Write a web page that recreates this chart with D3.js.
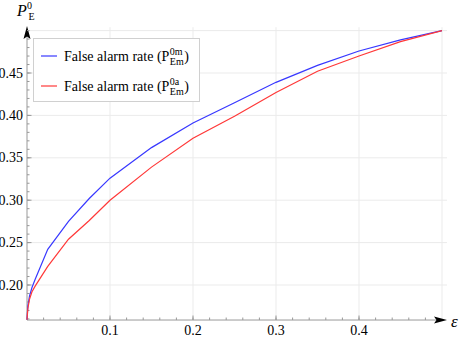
<!DOCTYPE html>
<html>
<head>
<meta charset="utf-8">
<script src="https://cdn.jsdelivr.net/npm/d3@7"></script>
<style>
  body { margin: 0; background: #fff; }
</style>
</head>
<body>
<div class="chart"></div>
<script>
// epsilon values and the two false alarm rate curves
const eps = [0, 0.001, 0.003, 0.006, 0.01, 0.025, 0.05, 0.075, 0.1, 0.15, 0.2, 0.25, 0.3, 0.35, 0.4, 0.45, 0.5]
const rateM = [0.159, 0.175, 0.187, 0.197, 0.207, 0.242, 0.275, 0.302, 0.326, 0.362, 0.391, 0.415, 0.439, 0.459, 0.476, 0.489, 0.5]
const rateA = [0.159, 0.172, 0.183, 0.192, 0.199, 0.222, 0.254, 0.276, 0.300, 0.339, 0.373, 0.399, 0.427, 0.452, 0.470, 0.487, 0.5]
const xTicks = [0.1, 0.2, 0.3, 0.4]
const yTicks = [0.20, 0.25, 0.30, 0.35, 0.40, 0.45]
const xGrid = [0.1, 0.2, 0.3, 0.4, 0.5]
const yGrid = [0.20, 0.25, 0.30, 0.35, 0.40, 0.45, 0.50]

const width = 463, height = 340
const font = "'Liberation Serif', 'Times New Roman', 'DejaVu Serif', serif"
const svg = d3.select(".chart").append("svg")
    .attr("width", width)
    .attr("height", height)
    .attr("font-family", font)
    .style("font-family", font)

const x = d3.scaleLinear().domain([0, 0.5]).range([27, 442])
const y = d3.scaleLinear().domain([0.2, 0.45]).range([285, 73])
const yMin = 0.1587

// grid
svg.append("g").selectAll("line").data(xGrid).enter().append("line")
    .attr("x1", d => x(d)).attr("x2", d => x(d))
    .attr("y1", y(yMin)).attr("y2", y(0.504))
    .attr("stroke", "#ebebeb")
svg.append("g").selectAll("line").data(yGrid).enter().append("line")
    .attr("x1", x(0)).attr("x2", x(0.506))
    .attr("y1", d => y(d)).attr("y2", d => y(d))
    .attr("stroke", "#ebebeb")

// axes
const axisColor = "#999"
svg.append("line")
    .attr("x1", x(0)).attr("x2", 440)
    .attr("y1", y(yMin)).attr("y2", y(yMin))
    .attr("stroke", axisColor)
svg.append("line")
    .attr("x1", x(0)).attr("x2", x(0))
    .attr("y1", y(yMin)).attr("y2", 34)
    .attr("stroke", axisColor)

// arrows
svg.append("path")
    .attr("d", "M447,320 L434,316.5 L436.5,320 L434,323.5 Z")
    .attr("fill", "#000")
svg.append("path")
    .attr("d", "M27,26 L23.5,39 L27,36.5 L30.5,39 Z")
    .attr("fill", "#000")

// x ticks
const xMinor = d3.range(0.02, 0.499, 0.02)
svg.append("g").selectAll("line").data(xMinor).enter().append("line")
    .attr("x1", d => x(d)).attr("x2", d => x(d))
    .attr("y1", y(yMin)).attr("y2", y(yMin) - 2.5)
    .attr("stroke", axisColor)
svg.append("g").selectAll("line").data(xTicks).enter().append("line")
    .attr("x1", d => x(d)).attr("x2", d => x(d))
    .attr("y1", y(yMin)).attr("y2", y(yMin) - 4.5)
    .attr("stroke", axisColor)
svg.append("g").selectAll("text").data(xTicks).enter().append("text")
    .attr("x", d => x(d)).attr("y", 335)
    .attr("text-anchor", "middle")
    .attr("font-size", 14)
    .text(d => d3.format(".1f")(d))

// y ticks
const yMinor = d3.range(0.16, 0.505, 0.01)
svg.append("g").selectAll("line").data(yMinor).enter().append("line")
    .attr("x1", x(0)).attr("x2", x(0) + 2.5)
    .attr("y1", d => y(d)).attr("y2", d => y(d))
    .attr("stroke", axisColor)
svg.append("g").selectAll("line").data(yTicks).enter().append("line")
    .attr("x1", x(0)).attr("x2", x(0) + 4.5)
    .attr("y1", d => y(d)).attr("y2", d => y(d))
    .attr("stroke", axisColor)
svg.append("g").selectAll("text").data(yTicks).enter().append("text")
    .attr("x", 23).attr("y", d => y(d) + 4.5)
    .attr("text-anchor", "end")
    .attr("font-size", 14)
    .text(d => d3.format(".2f")(d))

// curves
const line = d3.line()
    .x(d => x(d[0]))
    .y(d => y(d[1]))
const series = [
    {values: rateM, color: "#3838ff", sup: "0m"},
    {values: rateA, color: "#ff3838", sup: "0a"}
]
series.forEach(s => {
    svg.append("path")
        .datum(eps.map((e, i) => [e, s.values[i]]))
        .attr("d", line)
        .attr("fill", "none")
        .attr("stroke", s.color)
        .attr("stroke-width", 1.2)
})

// axis labels
svg.append("text").attr("x", 17).attr("y", 16)
    .attr("font-size", 16).attr("font-style", "italic").text("P")
svg.append("text").attr("x", 27).attr("y", 9)
    .attr("font-size", 10).text("0")
svg.append("text").attr("x", 28.5).attr("y", 20)
    .attr("font-size", 10).text("E")
svg.append("text").attr("x", 451).attr("y", 327)
    .attr("font-size", 17).attr("font-style", "italic").text("ε")

// legend
svg.append("rect")
    .attr("x", 33.5).attr("y", 38.5)
    .attr("width", 166).attr("height", 63)
    .attr("fill", "#fff")
    .attr("stroke", "#d0d0d0")
series.forEach((s, i) => {
    const ly = 56 + i * 30
    svg.append("line")
        .attr("x1", 41).attr("x2", 57)
        .attr("y1", ly).attr("y2", ly)
        .attr("stroke", s.color)
        .attr("stroke-width", 1.2)
    const t = svg.append("text")
        .attr("x", 64).attr("y", ly + 5)
        .attr("font-size", 14)
        .text("False alarm rate (P")
    const w = t.node().getComputedTextLength()
    const sx = 64 + w + 0.5
    const sp = svg.append("text").attr("x", sx).attr("y", ly - 1)
        .attr("font-size", 10).text(s.sup)
    const sb = svg.append("text").attr("x", sx).attr("y", ly + 9)
        .attr("font-size", 10).text("Em")
    const w2 = Math.max(sp.node().getComputedTextLength(), sb.node().getComputedTextLength())
    svg.append("text").attr("x", sx + w2 + 0.5).attr("y", ly + 5)
        .attr("font-size", 14).text(")")
})
</script>
</body>
</html>
